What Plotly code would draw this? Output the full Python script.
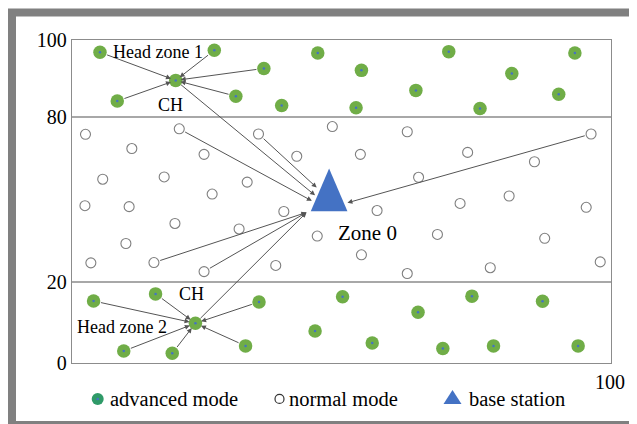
import plotly.graph_objects as go

# ---------------- data (x: 0-100 field width, y: drawing position 0-100) ----------------
adv_x = [5.19, 26.4, 19.24, 35.6, 8.4, 30.4, 38.9, 45.6, 53.7, 52.7, 63.8, 69.9, 81.6, 75.7, 93.3, 90.3,
         4.0, 15.5, 22.9, 34.7, 9.6, 18.6, 32.2, 45.1, 50.2, 64.2, 74.2, 87.3, 55.7, 68.8, 78.2, 93.9]
adv_y = [96.2, 96.8, 87.5, 91.2, 81.1, 82.6, 79.7, 96.0, 90.6, 79.0, 84.4, 96.4, 89.6, 78.8, 96.0, 83.2,
         19.2, 21.4, 12.3, 18.9, 3.7, 3.0, 5.3, 9.9, 20.5, 15.7, 20.7, 19.1, 6.2, 4.5, 5.3, 5.3]

norm_x = [2.5, 19.9, 34.6, 48.3, 62.2, 96.3, 11.1, 24.5, 41.7, 5.7, 17.1, 32.5, 26.0, 2.4, 10.6, 39.3,
          19.1, 31.0, 45.5, 10.0, 3.5, 15.2, 24.5, 37.8, 53.5, 73.4, 85.8, 64.3, 81.1, 72.0, 56.6, 95.4,
          67.8, 87.7, 53.7, 62.2, 77.6, 98.0]
norm_y = [70.8, 72.5, 70.9, 73.2, 71.6, 70.9, 66.4, 64.6, 64.0, 56.9, 57.6, 56.0, 52.3, 48.7, 48.4, 46.9,
          43.2, 41.5, 39.3, 37.0, 31.0, 31.1, 28.3, 30.2, 64.6, 65.2, 62.3, 57.5, 51.7, 49.4, 47.2, 48.2,
          39.8, 38.6, 33.5, 27.7, 29.5, 31.3]

base_station_x = [47.7]
base_station_y = [47.0]

ch1 = (19.24, 87.5)
ch2 = (22.9, 12.3)
zone1_members_x = [5.19, 26.4, 35.6, 8.4, 30.4]
zone1_members_y = [96.2, 96.8, 91.2, 81.1, 82.6]
zone2_members_x = [4.0, 15.5, 34.7, 9.6, 18.6, 32.2]
zone2_members_y = [19.2, 21.4, 18.9, 3.7, 3.0, 5.3]

# links to the base station: source -> point of arrival on the triangle
bs_src_x = [34.6, ch1[0], 19.9, 15.2, 24.5, ch2[0], 96.3]
bs_src_y = [70.9, ch1[1], 72.5, 31.1, 28.3, ch2[1], 70.9]
bs_dst_x = [45.4, 45.1, 44.5, 43.5, 43.5, 43.5, 51.1]
bs_dst_y = [54.3, 51.9, 50.2, 46.6, 46.6, 46.6, 49.6]

ytick_vals = [0, 25.1, 76.1, 100]
ytick_text = ["0", "20", "80", "100"]

legend_labels = ["advanced mode", "normal mode", "base station"]

# ---------------- style / layout geometry (figure pixels) ----------------
W, H = 637, 424
PLOT_L, PLOT_R, PLOT_T, PLOT_B = 64, 603, 31.5, 355
PW, PH = PLOT_R - PLOT_L, PLOT_B - PLOT_T
FONT = "Liberation Serif"
GREEN = "#70ad47"
BLUE = "#4472c4"
ARROW = "#555555"
TRI_HALF_W, TRI_H = 3.4, 13.2
LEG_Y = 391
LEG_MARKER_X = [89.7, 271.5, 444.5]
LEG_TEXT_X = [100.0, 279.0, 459.0]


def px(xp):
    return (xp - PLOT_L) / PW


def py(yp):
    return (PLOT_B - yp) / PH


fig = go.Figure()

shapes = []
# frame around the picture
shapes.append(dict(type="rect", xref="paper", yref="paper", x0=px(0), x1=px(628), y0=py(416), y1=py(0),
                   fillcolor="#808080", line_width=0, layer="below"))
shapes.append(dict(type="rect", xref="paper", yref="paper", x0=px(8), x1=px(625.5), y0=py(413), y1=py(8),
                   fillcolor="white", line_width=0, layer="below"))


def pix_shape(kind, cx, cy, **kw):
    d = dict(type=kind, xref="paper", yref="paper", xsizemode="pixel", ysizemode="pixel",
             xanchor=px(cx), yanchor=py(cy))
    d.update(kw)
    shapes.append(d)


# legend symbols
pix_shape("circle", LEG_MARKER_X[0], LEG_Y, x0=-6, x1=6, y0=-6, y1=6, fillcolor="#2f9a68", line_width=0)
pix_shape("circle", LEG_MARKER_X[0], LEG_Y, x0=-1.3, x1=1.3, y0=-1.3, y1=1.3, fillcolor=BLUE, line_width=0)
pix_shape("circle", LEG_MARKER_X[1], LEG_Y, x0=-4.5, x1=4.5, y0=-4.5, y1=4.5, fillcolor="white",
          line=dict(color="#333333", width=1.2))
pix_shape("path", LEG_MARKER_X[2], LEG_Y - 2, path="M -9,-7 L 9,-7 L 0,7 Z", fillcolor=BLUE, line_width=0)

# normal mode nodes
fig.add_trace(go.Scatter(x=norm_x, y=norm_y, mode="markers", cliponaxis=False,
                         marker=dict(size=10, color="white", line=dict(color="#7f7f7f", width=1.1)),
                         hoverinfo="skip", showlegend=False))
# advanced mode nodes
fig.add_trace(go.Scatter(x=adv_x, y=adv_y, mode="markers", cliponaxis=False,
                         marker=dict(size=13.5, color=GREEN, line=dict(width=0)),
                         hoverinfo="skip", showlegend=False))
fig.add_trace(go.Scatter(x=adv_x, y=adv_y, mode="markers", cliponaxis=False,
                         marker=dict(size=2.5, color=BLUE, line=dict(width=0)),
                         hoverinfo="skip", showlegend=False))

# base station triangle
bx, by = base_station_x[0], base_station_y[0]
fig.add_trace(go.Scatter(x=[bx - TRI_HALF_W, bx + TRI_HALF_W, bx, bx - TRI_HALF_W],
                         y=[by, by, by + TRI_H, by], mode="lines", fill="toself",
                         fillcolor=BLUE, line=dict(width=0, color=BLUE),
                         hoverinfo="skip", showlegend=False))

annotations = []
# member -> cluster head arrows
for mx, my in zip(zone1_members_x, zone1_members_y):
    annotations.append(dict(x=ch1[0], y=ch1[1], ax=mx, ay=my, xref="x", yref="y", axref="x", ayref="y",
                            text="", showarrow=True, arrowhead=2, arrowsize=1, arrowwidth=1,
                            arrowcolor=ARROW, standoff=5, startstandoff=6))
for mx, my in zip(zone2_members_x, zone2_members_y):
    annotations.append(dict(x=ch2[0], y=ch2[1], ax=mx, ay=my, xref="x", yref="y", axref="x", ayref="y",
                            text="", showarrow=True, arrowhead=2, arrowsize=1, arrowwidth=1,
                            arrowcolor=ARROW, standoff=6, startstandoff=6))
# -> base station
for sx, sy, dx, dy in zip(bs_src_x, bs_src_y, bs_dst_x, bs_dst_y):
    annotations.append(dict(x=dx, y=dy, ax=sx, ay=sy, xref="x", yref="y", axref="x", ayref="y",
                            text="", showarrow=True, arrowhead=2, arrowsize=1, arrowwidth=1,
                            arrowcolor=ARROW, standoff=0, startstandoff=5))


def label(x, y, t, size, xanchor="center", xref="x", yref="y"):
    annotations.append(dict(x=x, y=y, xref=xref, yref=yref, text=t, showarrow=False, xanchor=xanchor,
                            yanchor="middle", font=dict(family=FONT, size=size, color="black")))


label(16.0, 96.2, "Head zone 1", 18)
label(18.2, 80.0, "CH", 18)
label(22.2, 21.3, "CH", 18)
label(9.2, 11.0, "Head zone 2", 18)
label(54.8, 40.1, "Zone 0", 21)
label(px(602), py(374), "100", 20, xref="paper", yref="paper")
for tx, t in zip(LEG_TEXT_X, legend_labels):
    label(px(tx), py(LEG_Y), t, 20.5, "left", xref="paper", yref="paper")

fig.update_layout(
    template="none",
    width=W, height=H, margin=dict(l=PLOT_L, r=W - PLOT_R, t=PLOT_T, b=H - PLOT_B, pad=0),
    paper_bgcolor="white", plot_bgcolor="rgba(0,0,0,0)",
    annotations=annotations, shapes=shapes, showlegend=False,
    font=dict(family=FONT, color="black"),
    xaxis=dict(range=[0, 100], showgrid=False, zeroline=False, automargin=False,
               showticklabels=False, ticks="", showline=True, mirror=True, linecolor="#8c8c8c",
               linewidth=1.3, fixedrange=True),
    yaxis=dict(range=[0, 100], tickvals=ytick_vals, ticktext=ytick_text, automargin=False,
               showgrid=True, gridcolor="#a8a8a8", gridwidth=1.6, zeroline=False, ticks="",
               tickfont=dict(family=FONT, size=20, color="black"),
               showline=True, mirror=True, linecolor="#8c8c8c", linewidth=1.3, fixedrange=True),
)

fig.write_html("out.html")
